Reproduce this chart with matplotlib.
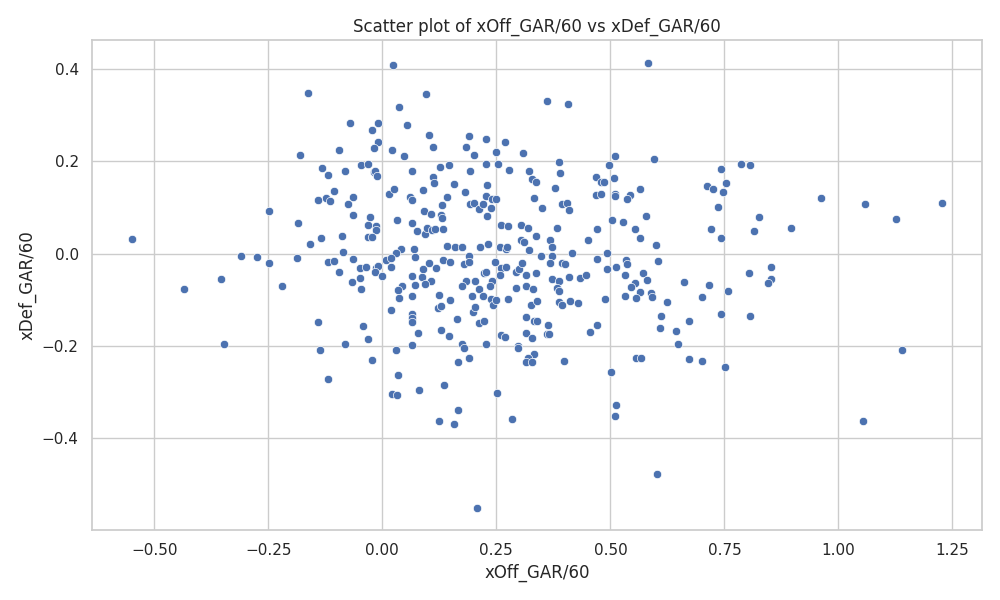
import matplotlib
matplotlib.use("Agg")
import matplotlib.pyplot as plt
import seaborn as sns

title = "Scatter plot of xOff_GAR/60 vs xDef_GAR/60"
x_label = "xOff_GAR/60"
y_label = "xDef_GAR/60"

x_off = [
    -0.548, -0.164, -0.070, -0.0095, -0.022, -0.0095, -0.018, -0.094, -0.180, -0.132,
    -0.118, -0.046, -0.031, -0.081, -0.019, -0.015, -0.011, 0.015, -0.105, -0.123,
    -0.140, -0.114, -0.064, -0.075, -0.064, -0.249, -0.184, -0.026, -0.031, -0.013,
    -0.013, -0.031, -0.022, -0.134, -0.088, -0.158, -0.086, -0.309, -0.274, -0.249,
    -0.186, -0.118, -0.107, -0.064, -0.096, -0.050, -0.035, -0.013, -0.009, -0.015,
    0.000, 0.009, -0.066, -0.048, -0.353,
    -0.434, -0.219, -0.046, -0.140, -0.042, -0.031, -0.081, -0.136, -0.346, -0.022, -0.118,
    0.024, 0.096, 0.037, 0.055, 0.103, 0.022, 0.048, 0.112, 0.191, 0.228,
    0.184, 0.202, 0.268, 0.250, 0.309, 0.362, 0.408, 0.583, 0.511, 0.596,
    0.498, 0.388, 0.390, 0.228, 0.254, 0.278, 0.127, 0.147, 0.193, 0.064,
    0.112, 0.114, 0.158, 0.230, 0.322, 0.329, 0.338, 0.379, 0.469, 0.480,
    0.487, 0.509, 0.564, 0.469, 0.480, 0.511, 0.511, 0.542, 0.537, 0.026,
    0.090, 0.061, 0.064, 0.142, 0.182, 0.131, 0.193, 0.202, 0.211, 0.221,
    0.228, 0.241, 0.250, 0.239, 0.230, 0.333, 0.351, 0.393, 0.404, 0.410,
    0.092, 0.107, 0.129, 0.131, 0.033, 0.066, 0.077, 0.094, 0.099, 0.110,
    0.116, 0.134, 0.261, 0.276, 0.305, 0.320, 0.382, 0.338, 0.303, 0.311,
    0.368, 0.452, 0.471, 0.504, 0.528, 0.553, 0.564, 0.577, 0.601, 0.142,
    0.160, 0.175, 0.215, 0.232, 0.257, 0.272, 0.274, 0.322, 0.347, 0.371,
    0.371, 0.415, 0.040, 0.031, 0.070, 0.072, 0.018, 0.020, 0.090, 0.103,
    0.118, 0.134, 0.149, 0.178, 0.191, 0.191, 0.248, 0.261, 0.272, 0.224,
    0.228, 0.241, 0.259, 0.294, 0.300, 0.307, 0.316, 0.336, 0.368, 0.393,
    0.401, 0.373, 0.388, 0.410, 0.434, 0.447, 0.471, 0.493, 0.493, 0.513,
    0.535, 0.537, 0.533, 0.572, 0.581, 0.555, 0.605, 0.662, 0.066, 0.088,
    0.107, 0.072, 0.094, 0.044, 0.184, 0.204, 0.175, 0.235, 0.316,
    0.035, 0.037, 0.066, 0.125, 0.149, 0.197, 0.213, 0.221, 0.239, 0.243,
    0.250, 0.276, 0.294, 0.331, 0.327, 0.340, 0.384, 0.388, 0.388, 0.395,
    0.412, 0.428, 0.489, 0.533, 0.546, 0.564, 0.557, 0.588, 0.592, 0.625,
    0.020, 0.066, 0.066, 0.066, 0.079, 0.129, 0.147, 0.123, 0.129, 0.164,
    0.199, 0.204, 0.213, 0.224, 0.175, 0.180, 0.228, 0.261, 0.268, 0.298,
    0.298, 0.316, 0.333, 0.340, 0.364, 0.316, 0.329, 0.360, 0.366, 0.456,
    0.471, 0.333, 0.320, 0.316, 0.329, 0.399, 0.031, 0.066, 0.167, 0.189,
    0.035, 0.022, 0.033, 0.081, 0.136, 0.252, 0.167, 0.125, 0.158, 0.285,
    0.208, 0.502, 0.513, 0.511, 0.557, 0.568, 0.610, 0.608, 0.643, 0.649,
    0.603,
    0.743, 0.787, 0.805, 0.711, 0.726, 0.746, 0.754, 0.735, 0.721, 0.743,
    0.825, 0.814, 0.897, 0.961, 1.059, 1.127, 1.226, 0.803, 0.853, 0.853,
    0.846, 0.717,
    0.757, 0.700, 0.672, 0.743, 0.807, 0.672, 0.700, 0.752, 1.140, 1.053,
]

x_def = [
    0.032, 0.349, 0.282, 0.282, 0.267, 0.241, 0.228, 0.225, 0.214, 0.186,
    0.171, 0.191, 0.195, 0.178, 0.176, 0.178, 0.169, 0.130, 0.136, 0.121,
    0.117, 0.114, 0.123, 0.108, 0.084, 0.093, 0.067, 0.080, 0.062, 0.060,
    0.051, 0.036, 0.036, 0.034, 0.038, 0.021, 0.004, -0.005, -0.007, -0.020,
    -0.009, -0.018, -0.016, -0.012, -0.040, -0.031, -0.029, -0.031, -0.027, -0.040,
    -0.049, -0.014, -0.062, -0.053, -0.055,
    -0.077, -0.071, -0.077, -0.149, -0.157, -0.186, -0.196, -0.209, -0.196, -0.231, -0.272,
    0.409, 0.345, 0.317, 0.278, 0.258, 0.225, 0.212, 0.230, 0.254, 0.249,
    0.230, 0.214, 0.241, 0.221, 0.219, 0.330, 0.325, 0.414, 0.212, 0.206,
    0.193, 0.199, 0.175, 0.195, 0.195, 0.182, 0.188, 0.191, 0.180, 0.178,
    0.167, 0.154, 0.151, 0.149, 0.180, 0.162, 0.156, 0.143, 0.167, 0.156,
    0.156, 0.164, 0.141, 0.128, 0.130, 0.130, 0.125, 0.128, 0.119, 0.141,
    0.138, 0.123, 0.117, 0.123, 0.134, 0.106, 0.108, 0.110, 0.097, 0.108,
    0.125, 0.119, 0.119, 0.099, 0.082, 0.121, 0.099, 0.108, 0.110, 0.095,
    0.093, 0.086, 0.084, 0.078, 0.073, 0.067, 0.049, 0.043, 0.056, 0.051,
    0.054, 0.054, 0.062, 0.060, 0.062, 0.056, 0.056, 0.038, 0.030, 0.025,
    0.030, 0.030, 0.054, 0.073, 0.069, 0.054, 0.034, 0.082, 0.019, 0.017,
    0.014, 0.014, 0.014, 0.021, 0.014, 0.010, 0.014, 0.008, -0.005, 0.014,
    -0.005, 0.001, 0.010, 0.001, 0.010, -0.007, -0.009, -0.029, -0.033, -0.020,
    -0.031, -0.014, -0.018, -0.022, -0.005, -0.018, -0.018, -0.031, -0.029, -0.042,
    -0.040, -0.059, -0.046, -0.040, -0.033, -0.020, -0.046, -0.042, -0.020, -0.020,
    -0.022, -0.055, -0.059, -0.051, -0.053, -0.046, -0.012, 0.001, -0.033, -0.029,
    -0.014, -0.022, -0.046, -0.042, -0.057, -0.064, -0.016, -0.062, -0.049, -0.051,
    -0.059, -0.068, -0.066, -0.070, -0.059, -0.059, -0.070, -0.070, -0.070,
    -0.079, -0.096, -0.092, -0.090, -0.101, -0.092, -0.077, -0.092, -0.099, -0.112,
    -0.101, -0.099, -0.075, -0.077, -0.112, -0.103, -0.075, -0.081, -0.105, -0.112,
    -0.103, -0.108, -0.099, -0.092, -0.073, -0.084, -0.096, -0.085, -0.094, -0.105,
    -0.122, -0.131, -0.140, -0.149, -0.172, -0.166, -0.179, -0.118, -0.114, -0.142,
    -0.127, -0.116, -0.151, -0.146, -0.196, -0.205, -0.196, -0.177, -0.181, -0.201,
    -0.205, -0.138, -0.146, -0.146, -0.155, -0.172, -0.183, -0.175, -0.175, -0.170,
    -0.155, -0.218, -0.227, -0.236, -0.236, -0.233, -0.209, -0.199, -0.236, -0.227,
    -0.264, -0.305, -0.307, -0.296, -0.285, -0.303, -0.340, -0.364, -0.370, -0.359,
    -0.551, -0.257, -0.329, -0.353, -0.227, -0.227, -0.135, -0.161, -0.168, -0.196,
    -0.477,
    0.184, 0.195, 0.191, 0.147, 0.141, 0.134, 0.154, 0.101, 0.054, 0.034,
    0.080, 0.049, 0.056, 0.121, 0.108, 0.075, 0.110, -0.042, -0.029, -0.055,
    -0.064, -0.068,
    -0.081, -0.094, -0.146, -0.131, -0.135, -0.229, -0.233, -0.246, -0.209, -0.364,
]

sns.set_theme(style="whitegrid")
fig, ax = plt.subplots(figsize=(10, 6), dpi=100)
sns.scatterplot(x=x_off, y=x_def, ax=ax)
ax.set_title(title)
ax.set_xlabel(x_label)
ax.set_ylabel(y_label)
fig.tight_layout()
fig.savefig("out.png")
